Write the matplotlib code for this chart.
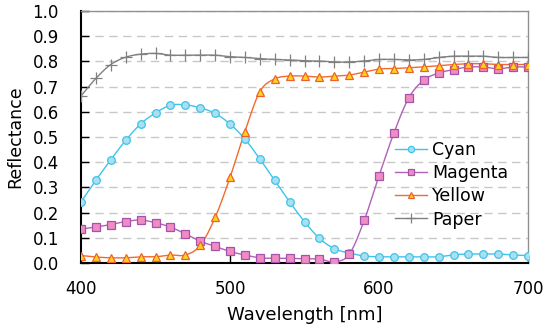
import numpy as np
import matplotlib
matplotlib.use("Agg")
import matplotlib.pyplot as plt

wavelength = list(range(400, 701, 10))

cyan = [0.243, 0.329, 0.410, 0.487, 0.552, 0.596, 0.626, 0.628, 0.616, 0.594,
        0.552, 0.492, 0.413, 0.328, 0.243, 0.164, 0.098, 0.057, 0.040, 0.028,
        0.025, 0.025, 0.025, 0.025, 0.025, 0.033, 0.036, 0.036, 0.036, 0.032, 0.030]

magenta = [0.135, 0.143, 0.153, 0.165, 0.171, 0.160, 0.143, 0.116, 0.087, 0.066,
           0.046, 0.032, 0.021, 0.019, 0.019, 0.017, 0.016, 0.005, 0.035, 0.169,
           0.347, 0.517, 0.656, 0.726, 0.754, 0.768, 0.778, 0.778, 0.771, 0.778, 0.778]

yellow = [0.030, 0.024, 0.021, 0.021, 0.025, 0.025, 0.032, 0.032, 0.070, 0.181,
          0.340, 0.522, 0.680, 0.731, 0.742, 0.742, 0.738, 0.742, 0.746, 0.758,
          0.770, 0.772, 0.775, 0.779, 0.783, 0.788, 0.791, 0.791, 0.788, 0.788, 0.788]

paper = [0.663, 0.733, 0.788, 0.817, 0.829, 0.832, 0.825, 0.825, 0.825, 0.825,
         0.819, 0.816, 0.811, 0.808, 0.806, 0.803, 0.802, 0.798, 0.798, 0.802,
         0.808, 0.808, 0.806, 0.808, 0.816, 0.821, 0.821, 0.821, 0.816, 0.816, 0.816]

series_names = ["Cyan", "Magenta", "Yellow", "Paper"]


def smooth(x, y, n=12):
    """Catmull-Rom curve through the data points (line drawing only)."""
    x = np.asarray(x, float)
    y = np.asarray(y, float)
    px = np.concatenate([[2 * x[0] - x[1]], x, [2 * x[-1] - x[-2]]])
    py = np.concatenate([[2 * y[0] - y[1]], y, [2 * y[-1] - y[-2]]])
    xs, ys = [], []
    t = np.linspace(0, 1, n, endpoint=False)
    for i in range(1, len(px) - 2):
        for arr, out in ((px, xs), (py, ys)):
            p0, p1, p2, p3 = arr[i - 1], arr[i], arr[i + 1], arr[i + 2]
            out.extend(0.5 * ((2 * p1) + (-p0 + p2) * t
                              + (2 * p0 - 5 * p1 + 4 * p2 - p3) * t ** 2
                              + (-p0 + 3 * p1 - 3 * p2 + p3) * t ** 3))
    xs.append(x[-1])
    ys.append(y[-1])
    return np.array(xs), np.array(ys)


plt.rcParams['font.family'] = ['DejaVu Sans']
fig = plt.figure(figsize=(5.45, 3.26), dpi=100)
ax = fig.add_axes([0.1486, 0.193, 0.8204, 0.773])

styles = [
    dict(color="#3ec4ea", marker="o", mfc="#a8e0f0", mec="#3ec4ea", ms=5.5, mew=0.9),
    dict(color="#b061b8", marker="s", mfc="#f08cc4", mec="#a452ac", ms=5.5, mew=0.9),
    dict(color="#f26a2c", marker="^", mfc="#ffd21e", mec="#f0602a", ms=6, mew=0.9),
    dict(color="#808080", marker="+", mfc="#808080", mec="#808080", ms=8, mew=0.9),
]

for name, data, st in zip(series_names, [cyan, magenta, yellow, paper], styles):
    sx, sy = smooth(wavelength, data)
    ax.plot(sx, sy, color=st["color"], lw=1.0, zorder=3)
    ax.plot(wavelength, data, ls="none", marker=st["marker"], mfc=st["mfc"],
            mec=st["mec"], ms=st["ms"], mew=st["mew"], zorder=4)
    ax.plot([], [], color=st["color"], lw=1.0, marker=st["marker"], mfc=st["mfc"],
            mec=st["mec"], ms=st["ms"] - 1, mew=st["mew"], label=name)

ax.set_xlim(400, 700)
ax.set_ylim(0, 1.0)
ax.set_xticks([400, 500, 600, 700])
ax.set_yticks(np.arange(0, 1.01, 0.1))
ax.set_yticklabels([f"{v:.1f}" for v in np.arange(0, 1.01, 0.1)])
ax.yaxis.grid(True, color="#c8c8c8", ls=(0, (6, 4)), lw=1.0)
ax.set_axisbelow(True)
ax.tick_params(direction="in", length=6, width=1, labelsize=12, colors="black")
ax.tick_params(axis="x", pad=12)
ax.tick_params(axis="y", pad=16)
for s in ["left", "bottom"]:
    ax.spines[s].set_color("black")
    ax.spines[s].set_linewidth(1.5)
for s in ["top", "right"]:
    ax.spines[s].set_color("#909090")
    ax.spines[s].set_linewidth(1.0)

ax.set_xlabel("Wavelength [nm]", fontsize=13, labelpad=6)
ax.set_ylabel("Reflectance", fontsize=12.5, labelpad=6)

leg = ax.legend(loc="lower right", bbox_to_anchor=(0.99, 0.075), frameon=False,
                fontsize=12.5, handlelength=1.8, handletextpad=0.3, labelspacing=0.3)

fig.savefig("out.png", dpi=100)
